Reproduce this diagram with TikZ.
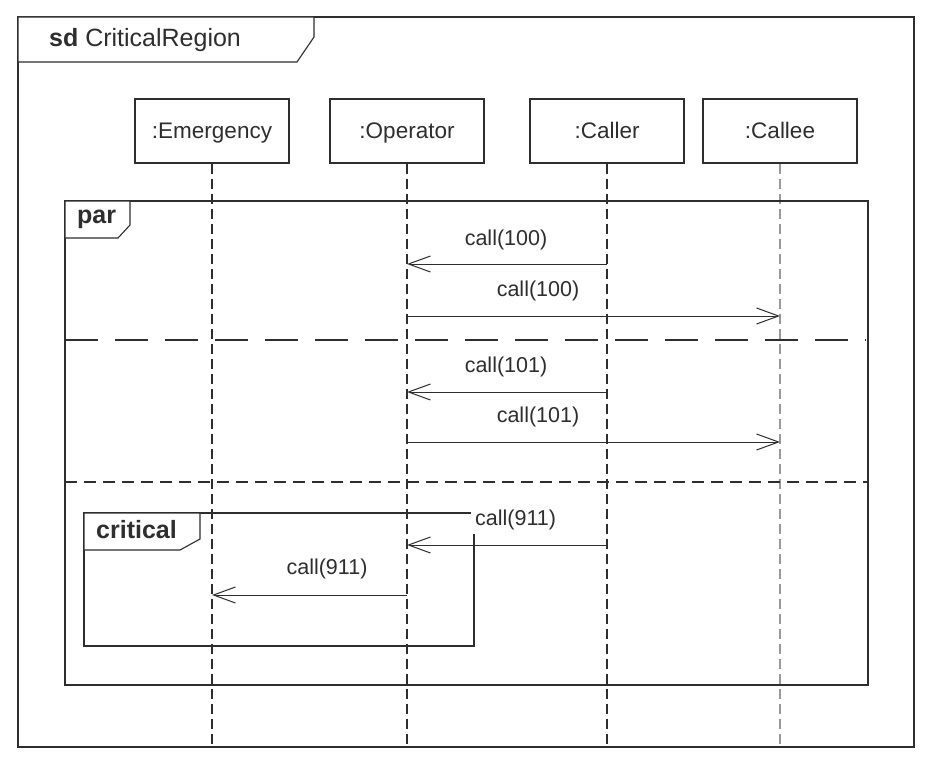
\documentclass[tikz,border=0pt]{standalone}
\usepackage{fontspec}
\setmainfont{Liberation Sans}
\usetikzlibrary{arrows.meta}
\definecolor{ink}{gray}{0.18}
\begin{document}
\begin{tikzpicture}[x=1pt,y=-1pt,
  every node/.style={font=\fontsize{21.5}{25}\selectfont, text=ink},
  boldlabel/.style={anchor=west, inner sep=0pt, font=\fontsize{25}{29}\selectfont\bfseries},
  frameline/.style={draw=ink, line width=1.1pt},
  lifebox/.style={draw=ink, line width=1.1pt, minimum width=154pt, minimum height=64pt, inner sep=0pt, text height=19pt, text depth=4pt, font=\fontsize{22.5}{26}\selectfont},
  lifeline/.style={draw=ink, line width=1.1pt, dash pattern=on 10pt off 5pt},
  msg/.style={draw=ink, line width=1pt, -{Straight Barb[length=22pt,width=16pt,line width=1pt]}},
  msglabel/.style={inner sep=1pt},
  sep1/.style={draw=ink, line width=1.1pt, dash pattern=on 33pt off 17pt},
  sep2/.style={draw=ink, line width=1.1pt, dash pattern=on 12pt off 7pt}]
\useasboundingbox (0,0) rectangle (933,768);
\fill[white] (0,0) rectangle (933,768);

% outer frame
\draw[frameline] (18,17) rectangle (914,747);
\draw[frameline, fill=white] (18,17) -- (314,17) -- (314,37) -- (297,62) -- (18,62) -- cycle;
\node[anchor=west, inner sep=0pt, font=\fontsize{25}{29}\selectfont] (sdlabel) at (49,40) {\textbf{sd} CriticalRegion};

% lifeline heads
\node[lifebox] (emergency) at (212,131) {:Emergency};
\node[lifebox] (operator) at (407,131) {:Operator};
\node[lifebox] (caller) at (607,131) {:Caller};
\node[lifebox] (callee) at (780,131) {:Callee};

\coordinate (bottom) at (0,747);
\draw[lifeline] (emergency.south) -- (emergency.south |- bottom);
\draw[lifeline] (operator.south) -- (operator.south |- bottom);
\draw[lifeline] (caller.south) -- (caller.south |- bottom);
\draw[lifeline, draw=gray!80] (callee.south) -- (callee.south |- bottom);

% par frame
\draw[frameline] (65,201) rectangle (868,685);
\draw[frameline, fill=white] (65,201) -- (130,201) -- (130,225) -- (118,238) -- (65,238) -- cycle;
\node[boldlabel] (parlabel) at (77,219) {par};

\coordinate (s1l) at (65,340);
\coordinate (s1r) at (866,340);
\coordinate (s2l) at (65,482);
\coordinate (s2r) at (868,482);
\draw[sep1] (s1l) -- (s1r);
\draw[sep2] (s2l) -- (s2r);

% messages
\coordinate (m1) at (0,264);
\coordinate (m2) at (0,316);
\coordinate (m3) at (0,392);
\coordinate (m4) at (0,442);
\coordinate (m5) at (0,545);
\coordinate (m6) at (0,595);

\draw[msg] (caller.south |- m1) -- (operator.south |- m1);
\node[msglabel] (l1) at (506,240) {call(100)};
\draw[msg] (operator.south |- m2) -- (callee.south |- m2);
\node[msglabel] (l2) at (538,291) {call(100)};
\draw[msg] (caller.south |- m3) -- (operator.south |- m3);
\node[msglabel] (l3) at (506,367) {call(101)};
\draw[msg] (operator.south |- m4) -- (callee.south |- m4);
\node[msglabel] (l4) at (538,417) {call(101)};

% critical frame (top-right corner hidden behind the label)
\draw[frameline] (471,513) -- (84,513) -- (84,646) -- (474,646) -- (474,534);
\draw[frameline, fill=white] (84,513) -- (200,513) -- (200,539) -- (180,550) -- (84,550) -- cycle;
\node[boldlabel] (critlabel) at (96,530) {critical};

\draw[msg] (caller.south |- m5) -- (operator.south |- m5);
\node[msglabel, anchor=west] (l5) at (474,520) {call(911)};
\draw[msg] (operator.south |- m6) -- (emergency.south |- m6);
\node[msglabel] (l6) at (327,569) {call(911)};
\end{tikzpicture}
\end{document}
